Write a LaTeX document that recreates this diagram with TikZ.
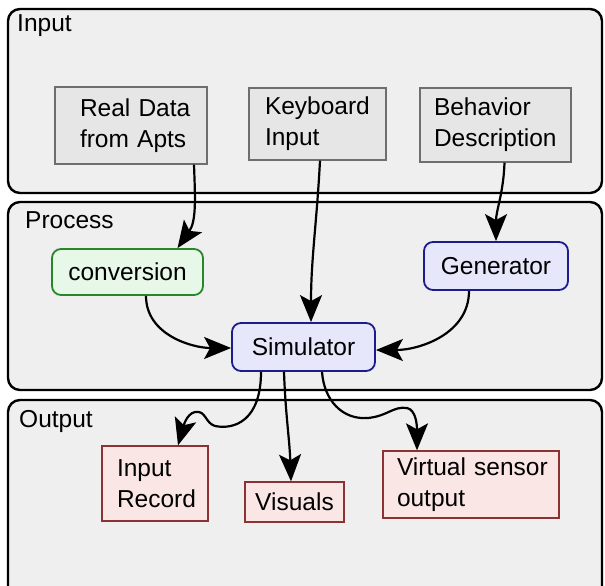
\documentclass[tikz,border=0pt]{standalone}
\usepackage{fontspec}
\setmainfont{Liberation Sans}
\usetikzlibrary{arrows.meta}

\definecolor{panelfill}{RGB}{239,239,239}
\definecolor{greyfill}{RGB}{230,230,230}
\definecolor{greyline}{RGB}{110,110,110}
\definecolor{greenfill}{RGB}{232,248,232}
\definecolor{greenline}{RGB}{40,135,40}
\definecolor{bluefill}{RGB}{230,231,250}
\definecolor{blueline}{RGB}{28,28,140}
\definecolor{redfill}{RGB}{251,230,230}
\definecolor{redline}{RGB}{140,50,50}

\tikzset{
  panel/.style={draw=black, fill=panelfill, line width=2.4pt, rounded corners=12pt},
  panellabel/.style={anchor=base west, inner sep=0pt},
  greybox/.style={draw=greyline, fill=greyfill, line width=1.3pt, inner sep=0pt, align=left},
  redbox/.style={draw=redline, fill=redfill, line width=1.3pt, inner sep=0pt, align=left},
  greenbox/.style={draw=greenline, fill=greenfill, line width=1.8pt, rounded corners=9pt, inner sep=0pt},
  bluebox/.style={draw=blueline, fill=bluefill, line width=1.8pt, rounded corners=9pt, inner sep=0pt},
  arr/.style={line width=2.2pt, -{Stealth[length=27pt,width=22pt,inset=6pt]}},
}

\begin{document}
\begin{tikzpicture}[x=1pt, y=-1pt, font=\fontsize{24.5}{31}\selectfont]
\useasboundingbox (0,0) rectangle (605,586);
\clip (0,0) rectangle (605,586);

% three stage panels
\draw[panel] (8,9) rectangle (602,193);
\draw[panel] (8,202) rectangle (602,390);
\draw[panel] (8,400) rectangle (602,610);
\node[panellabel] (lin) at (17,32) {Input};
\node[panellabel] (lpr) at (25,228) {Process};
\node[panellabel] (lout) at (19,427) {Output};

% input sources
\node[greybox, minimum width=152pt, minimum height=77pt, text width=152pt] (rd) at (131,125.5)
  {\hspace*{25pt}Real Data\\\hspace*{25pt}from Apts};
\node[greybox, minimum width=137pt, minimum height=72pt, text width=137pt] (kb) at (317.5,124)
  {\hspace*{16pt}Keyboard\\\hspace*{16pt}Input};
\node[greybox, minimum width=151pt, minimum height=74pt, text width=151pt] (beh) at (495.5,125)
  {\hspace*{14pt}Behavior\\\hspace*{14pt}Description};

% processing
\node[greenbox, minimum width=151pt, minimum height=46pt] (conv) at (127.5,272) {conversion};
\node[bluebox, minimum width=144pt, minimum height=48pt] (gen) at (496,266) {Generator};
\node[bluebox, minimum width=143pt, minimum height=48pt] (sim) at (303.5,347) {Simulator};

% outputs
\node[redbox, minimum width=106pt, minimum height=75pt, text width=106pt] (ir) at (155,483.5)
  {\hspace*{15pt}Input\\\hspace*{15pt}Record};
\node[redbox, minimum width=99pt, minimum height=40pt, align=center] (vis) at (294.5,502) {Visuals};
\node[redbox, minimum width=176pt, minimum height=67pt, text width=176pt] (vs) at (471,484.5)
  {\hspace*{14pt}Virtual sensor\\\hspace*{14pt}output};

% data flow
\draw[arr] ([xshift=63pt]rd.south) to[out=-88,in=55] ([xshift=50pt]conv.north);
\draw[arr] ([xshift=2.5pt]kb.south) to[out=-93,in=90] ([xshift=7.5pt]sim.north);
\draw[arr] ([xshift=9pt]beh.south) to[out=-92,in=90] (gen.north);
\draw[arr] ([xshift=18.5pt]conv.south) to[out=-90,in=180] ([yshift=-1pt]sim.west);
\draw[arr] ([xshift=-27pt]gen.south) to[out=-90,in=0] ([yshift=-3pt]sim.east);
\draw[arr] ([xshift=-42.5pt]sim.south) .. controls (261,420) and (235,430) .. (215,426)
  .. controls (205,423) and (206,410) .. (195,412)
  .. controls (186,414) and (183,428) .. ([xshift=23pt]ir.north);
\draw[arr] ([xshift=-19.5pt]sim.south) to[out=-88,in=92] ([xshift=-3.5pt]vis.north);
\draw[arr] ([xshift=18.5pt]sim.south) .. controls (324,400) and (342,420) .. (368,418)
  .. controls (388,416) and (393,406) .. (407,408)
  .. controls (416,410) and (417,425) .. ([xshift=-54pt]vs.north);
\end{tikzpicture}
\end{document}
